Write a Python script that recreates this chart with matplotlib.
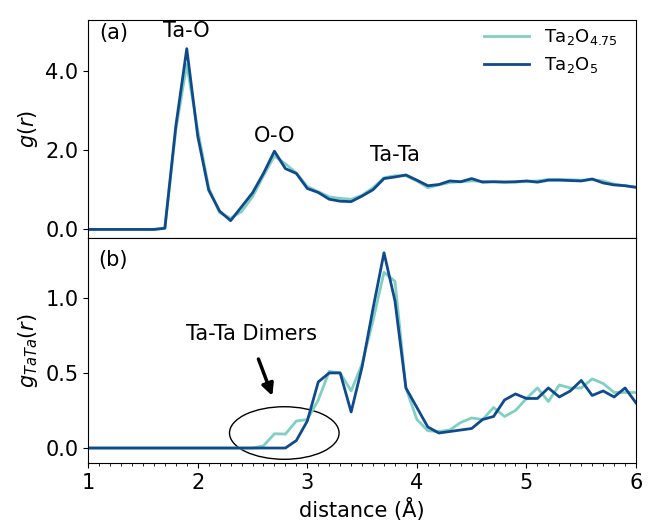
import numpy as np
import matplotlib
matplotlib.use("Agg")
import matplotlib.pyplot as plt
from matplotlib.patches import Ellipse

r = np.round(np.arange(1.0, 6.01, 0.1), 2)

g_ta2o5 = [0, 0, 0, 0, 0, 0, 0, 0.03, 2.6, 4.55, 2.35, 0.99, 0.46, 0.22, 0.57, 0.92,
           1.41, 1.97, 1.53, 1.41, 1.03, 0.93, 0.76, 0.71, 0.70, 0.84, 1.0, 1.28, 1.32,
           1.37, 1.24, 1.10, 1.13, 1.22, 1.20, 1.28, 1.19, 1.20, 1.19, 1.20, 1.22, 1.19,
           1.24, 1.24, 1.23, 1.22, 1.27, 1.17, 1.12, 1.10, 1.06]
g_ta2o475 = [0, 0, 0, 0, 0, 0, 0, 0.03, 2.5, 4.15, 2.5, 1.05, 0.42, 0.28, 0.45, 0.82,
             1.35, 1.85, 1.65, 1.42, 1.08, 0.95, 0.82, 0.78, 0.76, 0.86, 1.05, 1.30, 1.35,
             1.35, 1.22, 1.05, 1.12, 1.18, 1.20, 1.22, 1.21, 1.20, 1.20, 1.19, 1.21, 1.22,
             1.26, 1.26, 1.25, 1.24, 1.25, 1.22, 1.14, 1.10, 1.06]

gtt_ta2o5 = [0] * 19 + [0.05, 0.18, 0.44, 0.50, 0.50, 0.24, 0.54, 0.93, 1.30, 0.98,
                        0.40, 0.27, 0.14, 0.10, 0.11, 0.12, 0.13, 0.19, 0.21, 0.32, 0.36,
                        0.33, 0.33, 0.40, 0.34, 0.38, 0.45, 0.35, 0.38, 0.34, 0.40, 0.30]
gtt_ta2o475 = [0] * 16 + [0.015, 0.095, 0.093, 0.18, 0.19, 0.32, 0.51, 0.50, 0.38, 0.56,
                          0.85, 1.17, 1.11, 0.40, 0.19, 0.115, 0.11, 0.12, 0.17, 0.20,
                          0.19, 0.27, 0.21, 0.25, 0.33, 0.40, 0.31, 0.42, 0.40, 0.40,
                          0.46, 0.43, 0.37, 0.37, 0.37]

labels = ["Ta$_2$O$_{4.75}$", "Ta$_2$O$_5$"]
c_light = "#80cfc3"
c_dark = "#0f4a8c"
fs = 15

fig = plt.figure(figsize=(6.53, 5.25), dpi=100)
gs = fig.add_gridspec(2, 1, height_ratios=[217, 225], hspace=0,
                      left=0.135, right=0.974, top=0.961, bottom=0.118)
ax1 = fig.add_subplot(gs[0])
ax2 = fig.add_subplot(gs[1], sharex=ax1)

ax1.plot(r, g_ta2o475, color=c_light, lw=2, label=labels[0])
ax1.plot(r, g_ta2o5, color=c_dark, lw=2, label=labels[1])
ax1.set_ylim(-0.21, 5.26)
ax1.set_yticks([0, 2, 4])
ax1.set_yticklabels(["0.0", "2.0", "4.0"])
ax1.set_ylabel("$g(r)$", fontsize=fs)
ax1.tick_params(axis="y", labelsize=fs)
ax1.tick_params(axis="x", which="both", bottom=False, labelbottom=False)
ax1.text(1.23, 4.95, "(a)", fontsize=fs, ha="center", va="center")
ax1.text(1.894, 5.0, "Ta-O", fontsize=fs, ha="center", va="center")
ax1.text(2.70, 2.36, "O-O", fontsize=fs, ha="center", va="center")
ax1.text(3.80, 1.87, "Ta-Ta", fontsize=fs, ha="center", va="center")
ax1.legend(loc="upper right", frameon=False, fontsize=13, handlelength=2.5,
           labelspacing=0.45, bbox_to_anchor=(0.9945, 1.045))

ax2.plot(r, gtt_ta2o475, color=c_light, lw=2)
ax2.plot(r, gtt_ta2o5, color=c_dark, lw=2)
ax2.set_xlim(1, 6)
ax2.set_ylim(-0.1, 1.40)
ax2.set_yticks([0, 0.5, 1.0])
ax2.set_yticklabels(["0.0", "0.5", "1.0"])
ax2.set_xticks([1, 2, 3, 4, 5, 6])
ax2.set_xticks(np.arange(1, 6.01, 0.1), minor=True)
ax2.tick_params(axis="both", labelsize=fs)
ax2.set_ylabel("$g_{TaTa}(r)$", fontsize=fs)
ax2.set_xlabel("distance (Å)", fontsize=fs)
ax2.text(1.23, 1.25, "(b)", fontsize=fs, ha="center", va="center")
ax2.add_patch(Ellipse((2.79, 0.10), 1.0, 0.35, fill=False, edgecolor="black", lw=1))
ax2.annotate("", xy=(2.69, 0.33), xytext=(2.545, 0.61),
             arrowprops=dict(arrowstyle="-|>,head_width=0.35,head_length=0.7",
                             color="black", lw=2.5))
ax2.text(2.49, 0.76, "Ta-Ta Dimers", fontsize=fs, ha="center", va="center")

fig.savefig("out.png", dpi=100)
